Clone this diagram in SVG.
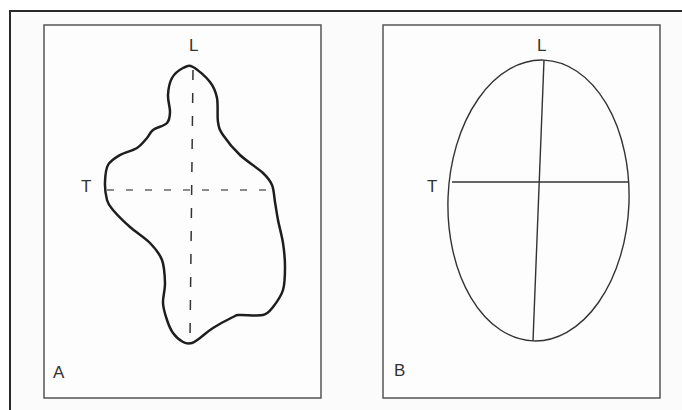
<svg xmlns="http://www.w3.org/2000/svg" width="682" height="410" viewBox="0 0 682 410">
<style>
.frame{fill:none;stroke:#2a2a2a;stroke-width:2}
.panel{fill:#fdfdfd;stroke:#555;stroke-width:1.5}
.lbl{font-family:"Liberation Sans",Arial,sans-serif;font-size:17px;fill:#333}
.outline{fill:none;stroke:#1e1e1e;stroke-width:2.5;stroke-linejoin:round}
.thin{fill:none;stroke:#333;stroke-width:1.4}
</style>
<rect x="0" y="0" width="682" height="410" fill="#ffffff"/>
<rect x="10" y="11" width="672" height="399" fill="#fbfbfb"/>
<path class="frame" d="M10,410 V11 H682"/>
<g id="panelA">
<rect class="panel" x="44" y="25" width="277" height="373"/>
<path class="outline" d="M193,67 C197.5,69.3 206,76.8 210,82 S215.7,91.3 217,98 S217,115.8 218,122 S219.3,129.5 223,135 S233.3,148.7 240,155 S257.7,168 263,173 S270,180.2 272,185 S274,196.2 275,202 S276.7,213.2 278,220 S281.8,235.2 283,243 S285,259.2 285,267 S285,283.3 283,290 S276.3,302.8 273,307 S268.5,313.7 263,315 S245,314.7 240,315 S237.5,314.8 233,317 S218.5,324.5 213,328 S203.5,335.5 200,338 S194.8,342.3 192,343 S186.2,343.7 183,342 S175.7,336.7 173,333 S168.7,325 167,320 S163.3,309.2 163,303 S165.2,290.2 165,283 S164.5,266.7 162,260 S155.3,248.5 150,243 S136.2,232.5 130,227 S116.8,214.5 113,210 S108.3,204.7 107,200 S104.8,187.8 105,182 S105.5,169.5 108,165 S115.2,157.8 120,155 S132.5,150.8 137,148 S144.3,141 147,138 S149.7,132.5 153,130 S164.2,126 167,123 S169.8,116.7 170,112 S167.7,100.7 168,95 S169.5,82.5 172,78 S179.5,69.8 183,68 S188.5,64.7 193,67 Z"/>
<line x1="193" y1="70" x2="190" y2="340" stroke="#333" stroke-width="1.5" stroke-dasharray="10 13"/>
<line x1="107" y1="190" x2="275" y2="190" stroke="#666" stroke-width="1.3" stroke-dasharray="7 12"/>
<text class="lbl" x="189" y="51">L</text>
<text class="lbl" x="81" y="192">T</text>
<text class="lbl" x="53" y="378">A</text>
</g>
<g id="panelB">
<rect class="panel" x="383" y="25" width="277" height="373"/>
<ellipse class="thin" cx="538.5" cy="200.5" rx="90.5" ry="140.5" transform="rotate(2.2 538.5 200.5)"/>
<line class="thin" x1="544" y1="60" x2="533" y2="341"/>
<line class="thin" x1="452" y1="182" x2="628" y2="182"/>
<text class="lbl" x="537" y="51">L</text>
<text class="lbl" x="427" y="192">T</text>
<text class="lbl" x="394" y="376">B</text>
</g>
</svg>
